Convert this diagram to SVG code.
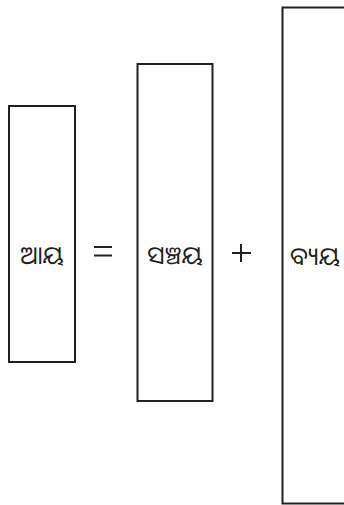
<svg xmlns="http://www.w3.org/2000/svg" width="344" height="505" viewBox="0 0 344 505">
<style>
.box{fill:#fff;stroke:#231f20;stroke-width:2}
.lbl{font-family:"Noto Sans Oriya","Noto Sans","DejaVu Sans",sans-serif;font-size:25px;fill:#231f20;text-anchor:middle}
.op{stroke:#231f20;stroke-width:2;fill:none}
</style>
<rect width="344" height="505" fill="#fff"/>
<g id="income">
<rect class="box" x="9" y="106" width="66" height="256"/>
<text class="lbl" x="42" y="264">ଆୟ</text>
</g>
<g id="equals">
<line class="op" x1="94" y1="247" x2="112" y2="247"/>
<line class="op" x1="94" y1="255.5" x2="112" y2="255.5"/>
</g>
<g id="savings">
<rect class="box" x="137.5" y="64" width="75" height="337"/>
<text class="lbl" x="175" y="264">ସଞ୍ଚୟ</text>
</g>
<g id="plus">
<line class="op" x1="232" y1="253" x2="251" y2="253"/>
<line class="op" x1="241" y1="244" x2="241" y2="262"/>
</g>
<g id="expenditure">
<rect class="box" x="282.5" y="7.5" width="70" height="496"/>
<text class="lbl" x="315" y="265">ବ୍ୟୟ</text>
</g>
<g id="connectors"></g>
</svg>
